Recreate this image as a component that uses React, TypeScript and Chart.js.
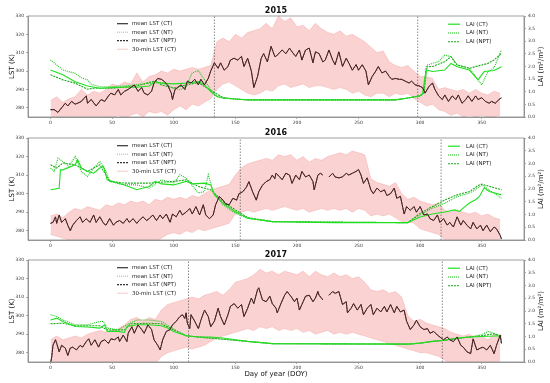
import React, { useEffect, useRef } from 'react';
import { Chart, registerables } from 'chart.js';
Chart.register(...registerables);

const FONT = "'DejaVu Sans', sans-serif";
const XTICKS = [0, 50, 100, 150, 200, 250, 300, 350];
const LST_TICKS = [280, 290, 300, 310, 320, 330];
const LAI_TICKS = [0, 0.5, 1, 1.5, 2, 2.5, 3, 3.5, 4];

const BAND_DAYS = [0,5,10,15,20,25,30,35,40,45,50,55,60,65,70,75,80,85,90,95,100,105,110,115,120,125,130,135,140,145,150,155,160,165,170,175,180,185,190,195,200,205,210,215,220,225,230,235,240,245,250,255,260,265,270,275,280,285,290,295,300,305,310,315,320,325,330,335,340,345,350,355,360,365];

// ---------- 2015 ----------
const LST_DAYS_2015 = [0,3,6,9,12,14,17,20,22,25,29,30,33,37,41,44,47,49,52,55,57,60,63,66,68,71,74,76,79,82,84,87,90,92,95,98,99,101,103,106,109,111,114,117,120,122,125,128,130,133,136,138,141,144,146,149,152,155,157,160,163,165,168,171,173,176,179,182,183,188,191,194,196,199,202,204,207,210,213,215,218,221,223,226,229,231,234,237,240,242,245,248,250,253,256,258,261,264,266,269,272,275,277,280,283,285,288,291,293,296,299,302,304,307,310,312,315,318,320,323,326,329,331,334,337,339,342,345,347,350,353,356,358,361,364,366];
const LST_CT_2015 = [279,279,277.5,280,282.5,281,283.5,282,282.5,283.5,286.5,282.5,284.5,281,284.5,283.5,286.5,288,287,290,287,289,290,291.5,292.5,289,291,288,287,289,293.5,296,295.5,294.5,292.5,288,284.5,290,291,292.5,290,294.5,293.5,295.5,292.5,295.5,292.5,296,300,304.5,301.5,304.5,300.5,302.5,306,307,306,308,302.5,307,300,291,297,307,309.5,305,313.5,308,308,311.5,309.5,312.5,310.5,308,311.5,306,311.5,312.5,304.5,310.5,309.5,305,306,311.5,306,303.5,310.5,302.5,307,304.5,300.5,303.5,300.5,303.5,300,292.5,297,300,302.5,299,300,297,295.5,296,295.5,295.5,294.5,293.5,294.5,292.5,292,291,288,291.5,293.5,290,286.5,284.5,287,283.5,286.5,284.5,287,282.5,284.5,286.5,283.5,286.5,284.5,285.5,283.5,282.5,283.5,282.5,284.5,285.5];
const BAND_HI_2015 = [284,286,283,285,286,290,287,289,288,290,293,292,294,293,299,294,297,298,300,299,301,300,301,302,301,302,303,316,318,316,320,318,321,322,323,326,323,330,327,329,324,325,322,326,323,321,320,322,319,320,318,316,313,310,311,305,303,302,303,300,297,297,296,290,291,290,289,290,288,290,288,287,289,288];
const BAND_LO_2015 = [274,274,274,274,274,274,274,274,274,275,274,276,274,276,277,275,278,277,278,276,279,281,279,282,281,283,285,290,293,294,292,290,288,287,288,290,289,292,293,291,292,293,291,292,292,291,290,291,290,288,289,287,286,288,288,286,288,287,288,285,283,281,282,279,278,276,277,275,276,275,276,275,275,276];
const LAI_CT_DAYS_2015 = [0,10,20,30,40,50,60,70,80,85,90,100,110,120,125,130,135,140,150,160,200,250,280,290,295,300,302,304,305,310,320,325,330,340,347,352,360,366];
const LAI_CT_2015 = [1.86,1.67,1.40,1.23,1.14,1.17,1.18,1.18,1.23,1.40,1.34,1.31,1.34,1.40,1.27,1.01,0.81,0.75,0.71,0.68,0.68,0.68,0.68,0.75,0.79,0.84,0.94,1.6,1.86,1.80,1.86,2.12,1.99,1.86,1.47,1.80,1.84,1.99];
const LAI_NT_DAYS_2015 = [0,10,20,25,30,33,35,40,50,60,80,90,100,105,110,115,120,125,130,135,140,150,160,280,290,300,303,306,315,320,325,330,340,345,350,355,360,366];
const LAI_NT_2015 = [2.26,1.86,1.73,1.55,1.47,1.30,1.27,1.20,1.20,1.23,1.34,1.36,1.14,1.08,1.20,1.75,1.84,1.47,1.08,0.81,0.75,0.71,0.68,0.68,0.75,0.84,0.95,2.06,2.20,2.45,2.39,2.06,1.93,1.60,1.27,1.80,1.95,2.65];
const LAI_NPT_DAYS_2015 = [0,10,20,30,35,50,70,85,90,100,110,120,130,140,150,160,280,290,300,303,305,310,320,325,330,340,350,355,360,366];
const LAI_NPT_2015 = [1.67,1.47,1.34,1.10,1.14,1.14,1.23,1.43,1.27,1.14,1.27,1.36,1.05,0.77,0.71,0.68,0.68,0.75,0.84,0.95,1.99,2.00,2.19,2.39,2.06,1.93,2.06,2.12,2.26,2.52];
const VLINES_2015 = [133, 298];

// ---------- 2016 ----------
const LST_DAYS_2016 = [0,2,4,5,7,9,12,14,16,18,21,24,26,29,32,35,37,40,43,45,48,51,53,56,59,62,64,67,70,72,75,78,80,83,86,89,91,94,97,99,102,105,107,110,113,115,118,121,124,126,129,132,134,137,140,142,145,148,151,153,156,159,161,164,167,169,172,175,178,180,182,183,186,188,191,194,196,199,202,204,207,210,213,214,217,219,221,223,226,229,231,234,237,240,242,245,248,250,252,254,257,260,262,265,268,271,273,276,279,281,284,287,289,292,295,297,300,303,306,308,311,314,316,319,322,324,327,330,333,335,338,341,343,346,349,351,354,357,360,362,365,366];
const LST_CT_2016 = [284,284.5,287.5,284,288.5,284.5,286.5,283,280,283,285.5,287.5,284.5,286.5,284.5,288.5,284.5,287.5,284,283,286.5,283,284.5,285.5,284,286.5,284.5,286.5,284,285.5,287.5,285.5,286.5,288.5,285.5,288.5,286.5,289,284.5,289,287.5,291,288.5,290,292,289,293,288.5,294,288.5,286.5,288.5,294,298.5,296.5,294.5,294,297.5,296.5,300,301,303.5,306.5,301,296.5,301,304.5,306.5,307.5,310,308,311,309,307.5,311,310,305.5,310,307.5,312,309,310,306.5,302,310,311,310,null,309,311,309,308.5,309,311,310,311,312,313,310,305.5,308.5,302,300,303,301,302,299,300,303,297.5,298.5,289,293,291,293,290,293,288.5,289,286.5,285.5,288.5,284.5,286.5,283,284.5,282,287.5,283,285.5,283,281,284.5,281,283,280,283,279.5,282,281,277.5,275.5];
const BAND_HI_2016 = [288,289,287,290,292,291,293,292,291,294,293,295,294,296,295,296,294,297,296,298,297,298,297,299,298,300,302,303,304,305,310,314,316,317,318,319,318,321,320,321,318,320,317,319,318,320,321,322,321,323,322,321,308,306,305,304,306,300,297,298,296,295,294,295,291,290,291,290,289,290,288,289,287,286];
const BAND_LO_2016 = [278,277,276,275,274,275,274,275,274,274,274,274,274,274,274,274,274,274,276,278,279,278,280,279,281,280,281,282,283,284,289,290,291,290,291,292,291,292,293,292,291,292,290,291,292,291,292,291,292,290,292,291,288,289,288,289,287,285,285,284,281,280,279,278,275,274,274,274,274,274,274,274,274,274];
const LAI_CT_DAYS_2016 = [0,7,8,10,20,22,25,30,35,40,43,46,50,60,70,80,85,90,100,110,115,125,130,133,140,150,160,170,180,230,290,295,300,310,320,328,332,336,340,345,348,352,356,360,366];
const LAI_CT_2016 = [1.97,2.03,2.75,2.75,2.95,3.15,2.82,2.69,2.62,2.82,2.89,2.36,2.30,2.16,1.97,2.10,2.30,2.20,2.16,2.30,2.20,2.23,2.16,1.77,1.44,1.11,0.85,0.79,0.72,0.68,0.68,0.79,0.90,1.02,1.10,1.18,1.12,1.30,1.45,1.58,1.70,2.05,1.90,1.85,1.77];
const LAI_NT_DAYS_2016 = [0,3,6,10,15,20,25,30,35,40,45,48,60,70,80,90,100,105,110,120,125,128,132,140,150,160,180,290,300,310,320,330,340,345,350,366];
const LAI_NT_2016 = [2.82,2.69,3.21,3.08,2.89,3.28,2.69,2.49,2.82,3.08,2.69,2.30,2.16,2.16,2.03,2.36,2.23,2.56,2.43,1.84,1.90,2.56,1.90,1.38,1.05,0.85,0.72,0.68,0.98,1.25,1.44,1.70,1.84,1.97,2.16,1.64];
const LAI_NPT_DAYS_2016 = [0,5,10,20,30,40,48,60,80,100,110,120,130,140,150,160,180,290,300,310,320,330,340,348,350,366];
const LAI_NPT_2016 = [2.95,2.82,3.02,2.95,2.69,2.95,2.30,2.23,2.23,2.30,2.36,2.10,1.97,1.51,1.18,0.88,0.72,0.68,1.05,1.31,1.57,1.77,1.90,2.16,2.19,1.97];
const VLINES_2016 = [154, 317];

// ---------- 2017 ----------
const LST_DAYS_2017 = [0,1,2,4,5,7,9,12,14,16,18,21,24,26,29,31,33,36,39,41,44,47,49,52,55,56,59,62,63,66,68,71,74,76,79,82,84,87,89,91,94,97,99,102,105,107,109,110,111,113,114,117,120,122,125,128,130,133,136,138,141,144,146,149,152,155,157,160,163,165,168,169,172,175,178,180,183,184,187,190,192,195,198,200,202,204,207,210,213,215,217,218,221,223,226,229,231,234,237,240,241,244,246,249,252,254,257,260,262,265,268,271,273,276,279,281,284,287,289,292,295,297,300,303,306,308,311,314,316,319,322,324,327,330,333,335,338,341,343,346,349,351,354,357,360,362,365,366];
const LST_CT_2017 = [274,278,284,287,285,280.5,284,282.5,278.5,282.5,283,281.5,284,283,286,287.5,284,287,283,286,287,285,287.5,287,288.5,286,289.5,286,290.5,294,290.5,295,292.5,290.5,295,292.5,287,284,281.5,287,291.5,292.5,295,297,299.5,300.5,298.5,301.5,296,293,300.5,297,293,297.5,303,299.5,294,297,304,299.5,295,300.5,305,306.5,304,306,299.5,304,309.5,306.5,314,315,308.5,307.5,310.5,306.5,304,301.5,306.5,311,313,310.5,307.5,309.5,303,306,310.5,311,307.5,309.5,313,311,308.5,null,311,313,312,313,306,307.5,301.5,304,306.5,303,306,300.5,304,306,300.5,304,302,305,302,306,301.5,305,302,303,297,292.5,295,297.5,294,292.5,293,290.5,291.5,289.5,288.5,287,288.5,287,286,288.5,284,283,280.5,279.5,287.5,281.5,282.5,283,281.5,284,279.5,284,289.5,285];
const BAND_HI_2017 = [287,289,287,288,289,288,290,291,292,291,292,293,295,298,299,297,299,298,303,306,307,308,309,310,309,311,312,313,311,314,318,319,320,322,325,323,324,322,324,323,322,324,321,324,322,321,323,321,322,320,321,318,314,313,314,312,313,310,300,297,298,296,295,294,293,291,290,289,290,288,289,287,290,288];
const BAND_LO_2017 = [274,274,274,274,274,274,274,274,274,274,274,274,274,274,274,274,274,274,278,280,281,282,283,282,283,284,286,288,289,290,291,292,293,292,294,293,294,292,293,292,293,291,292,290,291,292,290,291,290,291,290,289,288,287,286,285,284,283,282,281,280,280,279,278,276,274,274,274,274,274,274,274,274,274];
const LAI_CT_DAYS_2017 = [0,5,10,20,30,40,44,46,55,60,62,70,80,90,95,100,110,120,130,140,150,160,180,290,300,310,320,325,330,340,350,366];
const LAI_CT_2017 = [1.65,1.72,1.59,1.39,1.37,1.33,1.46,1.20,1.20,1.16,1.39,1.46,1.46,1.42,1.33,1.20,1.03,0.98,0.98,0.94,0.87,0.81,0.72,0.70,0.74,0.81,0.85,0.90,0.94,0.98,1.00,1.03];
const LAI_NT_DAYS_2017 = [0,5,10,20,30,40,43,46,55,62,70,80,90,100,110,120,180,290,300,310,320,330,340,350,355,360,366];
const LAI_NT_2017 = [1.85,1.79,1.65,1.46,1.46,1.59,1.59,1.33,1.26,1.46,1.65,1.65,1.59,1.29,1.03,0.98,0.72,0.70,0.74,0.81,0.85,0.92,0.98,1.07,1.20,1.13,0.94];
const LAI_NPT_DAYS_2017 = [0,10,20,40,46,60,65,80,90,100,110,120,180,290,300,310,320,330,340,350,360,366];
const LAI_NPT_2017 = [1.50,1.52,1.42,1.42,1.26,1.26,1.50,1.52,1.50,1.26,1.03,0.98,0.72,0.70,0.74,0.81,0.85,0.92,0.98,1.03,1.11,1.03];
const VLINES_2017 = [112, 318];

const LEFT_LEGEND = ['mean LST (CT)', 'mean LST (NT)', 'mean LST (NPT)', '30-min LST (CT)'];
const RIGHT_LEGEND = ['LAI (CT)', 'LAI (NT)', 'LAI (NPT)'];

const C_MEAN = '#4a1d1d';
const C_PINK = 'rgba(240,130,130,0.5)';
const C_BAND = 'rgba(244,160,160,0.48)';
const C_G1 = '#1fe01f';
const C_G2 = '#1cc41c';
const C_G3 = '#1aa81a';

const pts = (d: number[], v: (number | null)[]) => d.map((x, i) => ({ x, y: v[i] }));

type PanelDef = {
  title: string; top: number; height: number; padTop: number; xH: number; xTitle: boolean;
  lstDays: number[]; lst: (number | null)[]; hi: number[]; lo: number[];
  ctD: number[]; ct: number[]; ntD: number[]; nt: number[]; nptD: number[]; npt: number[]; vlines: number[];
};

const PANELS: PanelDef[] = [
  { title: '2015', top: 0, height: 125, padTop: 16, xH: 8, xTitle: false, lstDays: LST_DAYS_2015, lst: LST_CT_2015, hi: BAND_HI_2015, lo: BAND_LO_2015, ctD: LAI_CT_DAYS_2015, ct: LAI_CT_2015, ntD: LAI_NT_DAYS_2015, nt: LAI_NT_2015, nptD: LAI_NPT_DAYS_2015, npt: LAI_NPT_2015, vlines: VLINES_2015 },
  { title: '2016', top: 125, height: 125, padTop: 13, xH: 10, xTitle: false, lstDays: LST_DAYS_2016, lst: LST_CT_2016, hi: BAND_HI_2016, lo: BAND_LO_2016, ctD: LAI_CT_DAYS_2016, ct: LAI_CT_2016, ntD: LAI_NT_DAYS_2016, nt: LAI_NT_2016, nptD: LAI_NPT_DAYS_2016, npt: LAI_NPT_2016, vlines: VLINES_2016 },
  { title: '2017', top: 250, height: 133, padTop: 10, xH: 21, xTitle: true, lstDays: LST_DAYS_2017, lst: LST_CT_2017, hi: BAND_HI_2017, lo: BAND_LO_2017, ctD: LAI_CT_DAYS_2017, ct: LAI_CT_2017, ntD: LAI_NT_DAYS_2017, nt: LAI_NT_2017, nptD: LAI_NPT_DAYS_2017, npt: LAI_NPT_2017, vlines: VLINES_2017 },
];

function Panel({ p }: { p: PanelDef }) {
  const ref = useRef<HTMLCanvasElement>(null);
  useEffect(() => {
    const canvas = ref.current!;
    const overlay = {
      id: 'overlay',
      afterDraw(chart: any) {
        const ctx = chart.ctx as CanvasRenderingContext2D;
        const a = chart.chartArea;
        ctx.save();
        ctx.strokeStyle = '#888';
        ctx.lineWidth = 0.8;
        ctx.setLineDash([]);
        ctx.strokeRect(a.left, a.top, a.right - a.left, a.bottom - a.top);
        ctx.fillStyle = '#111';
        ctx.textBaseline = 'middle';
        ctx.font = `bold 8px ${FONT}`;
        ctx.textAlign = 'center';
        ctx.fillText(p.title, (a.left + a.right) / 2, a.top - 5.5);
        ctx.font = `7px ${FONT}`;
        const midY = (a.top + a.bottom) / 2;
        ctx.save();
        ctx.translate(12, midY);
        ctx.rotate(-Math.PI / 2);
        ctx.fillText('LST (K)', 0, 0);
        ctx.restore();
        ctx.save();
        ctx.translate(541, midY);
        ctx.rotate(-Math.PI / 2);
        ctx.fillText('LAI (m²/m²)', 0, 0);
        ctx.restore();
        if (p.xTitle) {
          ctx.fillText('Day of year (DOY)', (a.left + a.right) / 2, 124);
        }
        ctx.font = `5.5px ${FONT}`;
        ctx.textAlign = 'left';
        const leftStyles = [
          { c: '#333', w: 1.2, d: [] as number[] },
          { c: '#999', w: 0.8, d: [1, 1] },
          { c: '#333', w: 1.2, d: [2, 1] },
          { c: C_PINK, w: 0.9, d: [] as number[] },
        ];
        LEFT_LEGEND.forEach((t, i) => {
          const y = a.top + 7.7 + 8.5 * i;
          const s = leftStyles[i];
          ctx.strokeStyle = s.c; ctx.lineWidth = s.w; ctx.setLineDash(s.d);
          ctx.beginPath(); ctx.moveTo(117, y); ctx.lineTo(128, y); ctx.stroke();
          ctx.fillStyle = '#222';
          ctx.fillText(t, 132, y);
        });
        const rightStyles = [
          { c: C_G1, w: 1.2, d: [] as number[] },
          { c: C_G2, w: 1.1, d: [1, 1] },
          { c: C_G3, w: 1.1, d: [2, 1] },
        ];
        RIGHT_LEGEND.forEach((t, i) => {
          const y = a.top + 8.2 + 8.8 * i;
          const s = rightStyles[i];
          ctx.strokeStyle = s.c; ctx.lineWidth = s.w; ctx.setLineDash(s.d);
          ctx.beginPath(); ctx.moveTo(448, y); ctx.lineTo(460, y); ctx.stroke();
          ctx.fillStyle = '#222';
          ctx.fillText(t, 466, y);
        });
        ctx.restore();
      },
    };
    const lstPts = pts(p.lstDays, p.lst);
    const common = { pointRadius: 0, tension: 0, clip: 0, spanGaps: false };
    const datasets: any[] = [
      { ...common, data: lstPts, yAxisID: 'y', borderColor: C_MEAN, borderWidth: 1, fill: false },
      // NT and NPT mean LST coincide with CT at this resolution
      { ...common, data: lstPts, yAxisID: 'y', borderColor: '#999', borderWidth: 0.8, borderDash: [1, 1], fill: false },
      { ...common, data: lstPts, yAxisID: 'y', borderColor: '#444', borderWidth: 0.9, borderDash: [2, 1], fill: false },
      { ...common, data: pts(p.ctD, p.ct), yAxisID: 'y2', borderColor: C_G1, borderWidth: 1.1, fill: false },
      { ...common, data: pts(p.ntD, p.nt), yAxisID: 'y2', borderColor: C_G2, borderWidth: 1.1, borderDash: [1, 1], fill: false },
      { ...common, data: pts(p.nptD, p.npt), yAxisID: 'y2', borderColor: C_G3, borderWidth: 1.1, borderDash: [2, 1], fill: false },
      ...p.vlines.map((d) => ({ ...common, data: [{ x: d, y: 275 }, { x: d, y: 330 }], yAxisID: 'y', borderColor: '#555', borderWidth: 0.7, borderDash: [1.5, 1.5], fill: false })),
      { ...common, data: pts(BAND_DAYS, p.hi), yAxisID: 'y', borderColor: C_PINK, borderWidth: 0.6, backgroundColor: C_BAND, fill: '+1' },
      { ...common, data: pts(BAND_DAYS, p.lo), yAxisID: 'y', borderColor: C_PINK, borderWidth: 0.6, fill: false },
    ];
    const tickFont = { size: 4.5, family: FONT };
    const gridCfg = { display: true, drawOnChartArea: false, drawTicks: true, tickLength: 2, color: '#777', lineWidth: 0.6 };
    const chart = new Chart(canvas, {
      type: 'line',
      data: { datasets },
      plugins: [overlay],
      options: {
        animation: false,
        responsive: false,
        maintainAspectRatio: false,
        layout: { padding: { top: p.padTop, left: 0, right: 0, bottom: 0 } },
        plugins: { legend: { display: false }, tooltip: { enabled: false }, title: { display: false } },
        elements: { point: { radius: 0 } },
        scales: {
          x: {
            type: 'linear', min: -18.3, max: 384.3,
            afterBuildTicks: (s: any) => { s.ticks = XTICKS.map((v) => ({ value: v })); },
            afterFit: (s: any) => { s.height = p.xH; },
            ticks: { font: tickFont, color: '#333', padding: 1, maxRotation: 0, autoSkip: false },
            grid: gridCfg, border: { display: true, color: '#888', width: 0.8 },
          },
          y: {
            position: 'left', min: 275, max: 330,
            afterBuildTicks: (s: any) => { s.ticks = LST_TICKS.map((v) => ({ value: v })); },
            afterFit: (s: any) => { s.width = 28; },
            ticks: { font: tickFont, color: '#333', padding: 2, autoSkip: false },
            grid: gridCfg, border: { display: true, color: '#888', width: 0.8 },
          },
          y2: {
            position: 'right', min: 0, max: 4,
            afterBuildTicks: (s: any) => { s.ticks = LAI_TICKS.map((v) => ({ value: v })); },
            afterFit: (s: any) => { s.width = 26; },
            ticks: { font: tickFont, color: '#333', padding: 2, autoSkip: false, callback: (v: any) => Number(v).toFixed(1) },
            grid: gridCfg, border: { display: true, color: '#888', width: 0.8 },
          },
        },
      } as any,
    });
    return () => chart.destroy();
  }, [p]);
  return (
    <canvas ref={ref} width={550} height={p.height}
      style={{ position: 'absolute', left: 0, top: p.top, width: 550, height: p.height }} />
  );
}

export default function App() {
  return (
    <div style={{ position: 'fixed', left: 0, top: 0, width: 550, height: 383, background: '#fff', overflow: 'hidden' }}>
      {PANELS.map((p) => <Panel key={p.title} p={p} />)}
    </div>
  );
}
